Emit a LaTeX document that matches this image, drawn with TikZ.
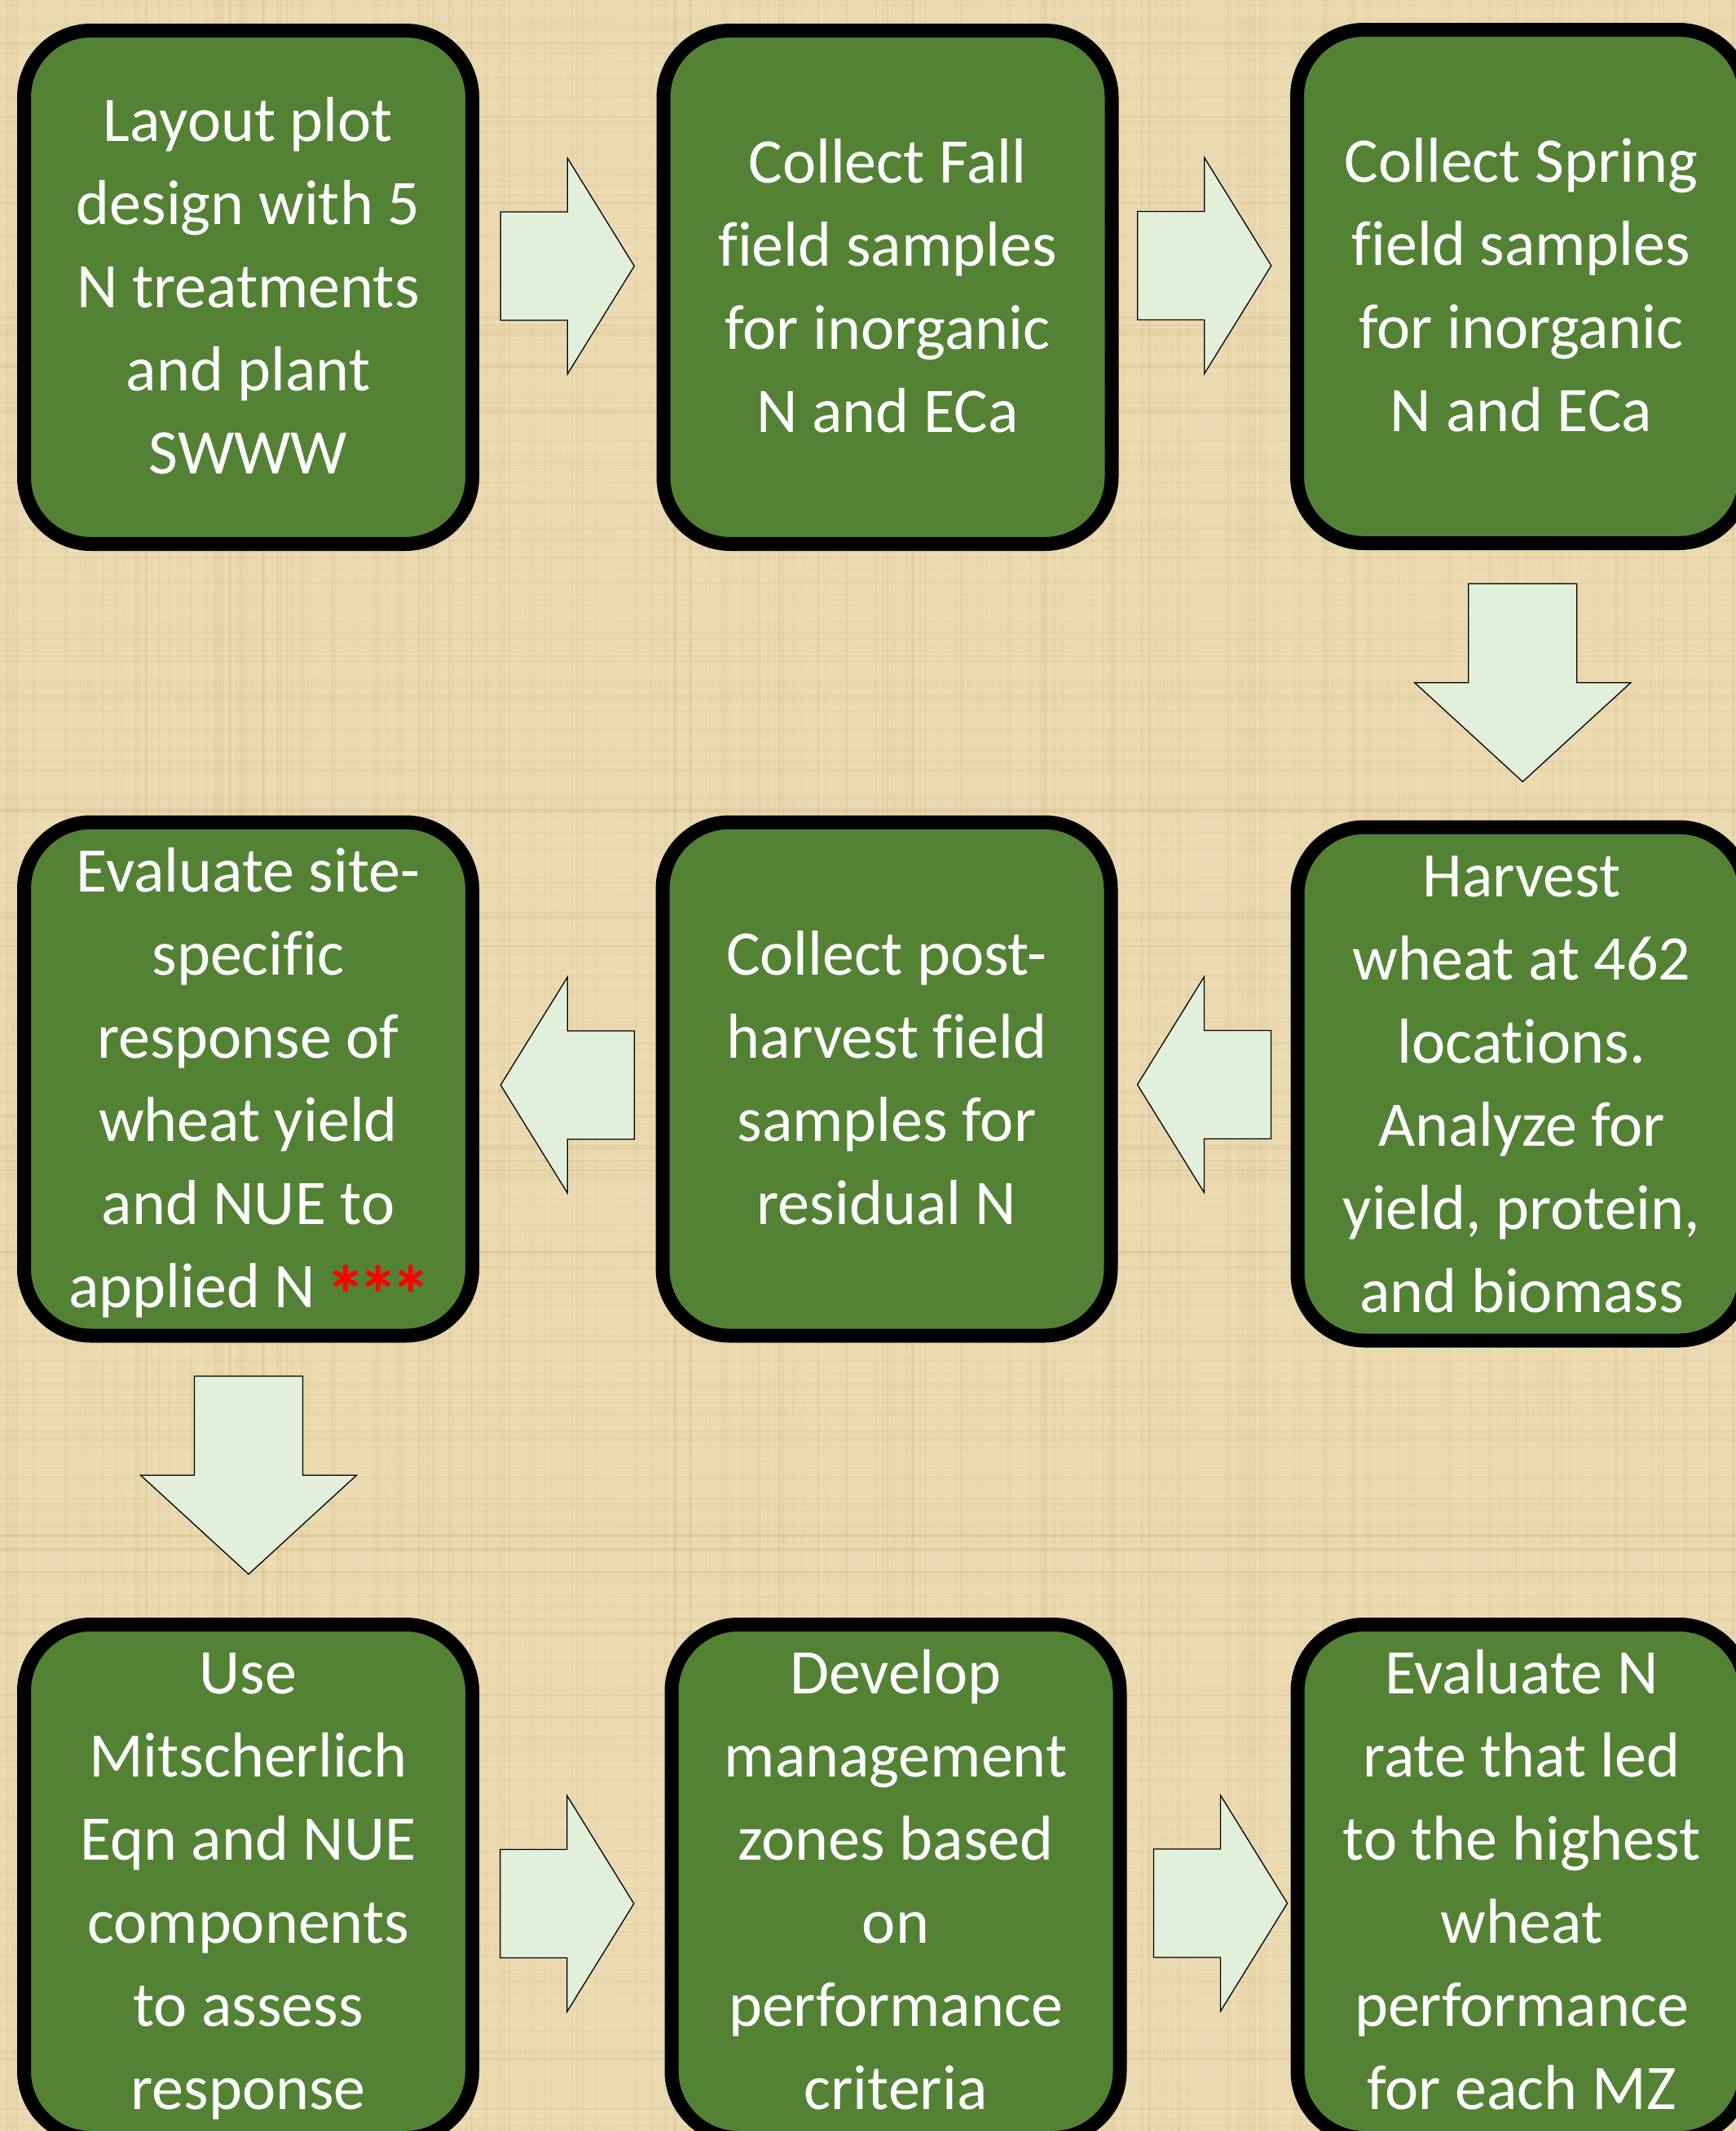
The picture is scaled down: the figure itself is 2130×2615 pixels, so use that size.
\documentclass[tikz,border=0pt]{standalone}
\usepackage{fontspec}
\setmainfont{Carlito}[Ligatures=NoCommon]
\usetikzlibrary{calc}
\definecolor{bgtan}{HTML}{ECDBB2}
\definecolor{weave}{HTML}{B89868}
\definecolor{boxgreen}{HTML}{548235}
\definecolor{arrowfill}{HTML}{E2EFDA}
\newcommand{\ls}{\rule[-20pt]{0pt}{90pt}}
\newcommand{\redstar}{\makebox[40pt][c]{\raisebox{-20pt}{\fontsize{100pt}{102pt}\selectfont\bfseries *}}}
\tikzset{
  stepbox/.style={draw=black, line width=17pt, fill=boxgreen, rounded corners=82pt,
    minimum width=550pt, minimum height=630pt, inner sep=0pt, align=center,
    text=white, font=\fontsize{78pt}{102pt}\selectfont},
  arrowshape/.style={draw=black, line width=1.3pt, fill=arrowfill, line join=miter},
  harrow/.pic={\draw[arrowshape] (-82,-66.5) -- (0,-66.5) -- (0,-132.5) -- (82,0) -- (0,132.5) -- (0,66.5) -- (-82,66.5) -- cycle;},
  varrow/.pic={\draw[arrowshape] (-66.5,-121.5) -- (66.5,-121.5) -- (66.5,0) -- (132.5,0) -- (0,121.5) -- (-132.5,0) -- (-66.5,0) -- cycle;}
}
\begin{document}
\begin{tikzpicture}[x=1pt, y=-1pt]
\useasboundingbox (0,0) rectangle (2130,2615);
\fill[bgtan] (0,0) rectangle (2130,2615);
\pgfmathsetseed{7}
\foreach \i in {1,...,340}{
  \pgfmathsetmacro{\xx}{2130*rnd}
  \pgfmathsetmacro{\op}{0.03+0.07*rnd}
  \pgfmathsetmacro{\lw}{1+2.5*rnd}
  \draw[weave, line width=\lw pt, opacity=\op] (\xx,0) -- (\xx,2615);
}
\foreach \i in {1,...,420}{
  \pgfmathsetmacro{\yy}{2615*rnd}
  \pgfmathsetmacro{\op}{0.03+0.07*rnd}
  \pgfmathsetmacro{\lw}{1+2.5*rnd}
  \draw[weave, line width=\lw pt, opacity=\op] (0,\yy) -- (2130,\yy);
}

\node[stepbox] (b1) at (304.5,352.5) {\ls Layout plot\\\ls design with 5\\\ls N treatments\\\ls and plant\\\ls SWWW};
\node[stepbox] (b2) at (1089,352.5) {\ls Collect Fall\\\ls field samples\\\ls for inorganic\\\ls N and ECa};
\node[stepbox] (b3) at (1866.5,351.5) {\ls Collect Spring\\\ls field samples\\\ls for inorganic\\\ls N and ECa};
\node[stepbox] (b4) at (304.5,1324) {\ls Evaluate site-\\\ls specific\\\ls response of\\\ls wheat yield\\\ls and NUE to\\\ls applied N {\color{red}\redstar\redstar\redstar}};
\node[stepbox] (b5) at (1088,1324) {\ls Collect post-\\\ls harvest field\\\ls samples for\\\ls residual N};
\node[stepbox] (b6) at (1867,1330) {\ls Harvest\\\ls wheat at 462\\\ls locations.\\\ls Analyze for\\\ls yield, protein,\\\ls and biomass};
\node[stepbox] (b7) at (304.5,2308.5) {\ls Use\\\ls Mitscherlich\\\ls Eqn and NUE\\\ls components\\\ls to assess\\\ls response};
\node[stepbox] (b8) at (1099,2308.5) {\ls Develop\\\ls management\\\ls zones based\\\ls on\\\ls performance\\\ls criteria};
\node[stepbox] (b9) at (1867,2308.5) {\ls Evaluate N\\\ls rate that led\\\ls to the highest\\\ls wheat\\\ls performance\\\ls for each MZ};

\pic at ($(b1.east)!0.5!(b2.west)+(-0.5,-26)$) {harrow};
\pic at ($(b2.east)!0.5!(b3.west)+(0,-26)$) {harrow};
\pic at ($(b3.south)!0.5!(b6.north)+(1.5,-3)$) {varrow};
\pic[xscale=-1] at ($(b6.west)!0.5!(b5.east)+(0,4)$) {harrow};
\pic[xscale=-1] at ($(b5.west)!0.5!(b4.east)+(0,7.5)$) {harrow};
\pic at ($(b4.south)!0.5!(b7.north)+(0.5,-6)$) {varrow};
\pic at ($(b7.east)!0.5!(b8.west)+(-6,27.5)$) {harrow};
\pic at ($(b8.east)!0.5!(b9.west)+(14.5,27)$) {harrow};
\end{tikzpicture}
\end{document}
